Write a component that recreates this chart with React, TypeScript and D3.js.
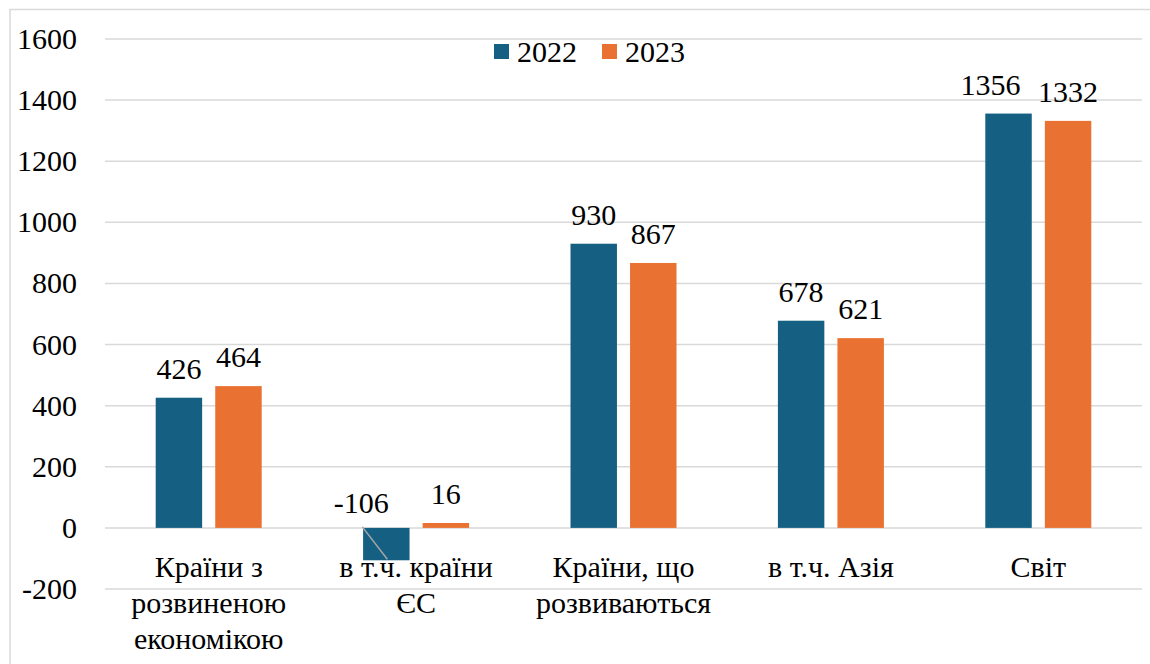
import React from 'react';
import * as d3 from 'd3';

const categories = [
  "Країни з розвиненою економікою",
  "в т.ч. країни ЄС",
  "Країни, що розвиваються",
  "в т.ч. Азія",
  "Світ",
];
const series = ["2022", "2023"];
const values2022 = [426, -106, 930, 678, 1356];
const values2023 = [464, 16, 867, 621, 1332];
const yTicks = [-200, 0, 200, 400, 600, 800, 1000, 1200, 1400, 1600];

// category labels broken into lines the way the original wraps them
const categoryLines = [
  ["Країни з", "розвиненою", "економікою"],
  ["в т.ч. країни", "ЄС"],
  ["Країни, що", "розвиваються"],
  ["в т.ч. Азія"],
  ["Світ"],
];

const colors = ["#156082", "#E97132"];
const FONT = "Liberation Serif";

// manual label nudges, as in the original chart
const nudge: Record<string, number> = {
  "Світ|2022": -18,
  "в т.ч. країни ЄС|2022": -25,
};

const App: React.FC = () => {
  const left = 105, right = 1142;
  const y = d3.scaleLinear().domain([-200, 1600]).range([589, 39]);
  const x0 = d3.scaleBand().domain(categories).range([left, right]).padding(0);
  const bw = x0.bandwidth();
  const x1 = d3.scaleBand().domain(series).range([bw / 2 - 53, bw / 2 + 53]).paddingInner(0.22);
  const color = d3.scaleOrdinal<string>().domain(series).range(colors);

  const data = categories.map((c, i) => ({
    category: c,
    values: [
      { key: "2022", value: values2022[i] },
      { key: "2023", value: values2023[i] },
    ],
  }));

  const ts = { fontFamily: FONT } as React.CSSProperties;

  return (
    <svg
      width={1150}
      height={664}
      fontFamily={FONT}
      fontSize={30}
      style={{ position: "absolute", left: 0, top: 0, background: "white", fontFamily: FONT }}
    >
      <rect x={10} y={9.5} width={1200} height={700} fill="white" stroke="#D9D9D9" strokeWidth={1.5} />

      {yTicks.map(t => (
        <line key={`g${t}`} x1={left} x2={right} y1={y(t)} y2={y(t)} stroke="#D9D9D9" strokeWidth={1.5} />
      ))}
      {yTicks.map(t => (
        <text key={`t${t}`} x={77} y={y(t) + 10} textAnchor="end" fontSize={30} style={ts}>{t}</text>
      ))}

      {data.map(d => (
        <g key={d.category} transform={`translate(${x0(d.category)},0)`}>
          {d.values.map(v => {
            const bx = x1(v.key) || 0;
            const cx = bx + x1.bandwidth() / 2;
            const dx = nudge[`${d.category}|${v.key}`] || 0;
            const ly = v.value >= 0 ? y(v.value) - 19 : y(0) - 15;
            return (
              <g key={v.key}>
                <rect
                  x={bx}
                  y={y(Math.max(0, v.value))}
                  width={x1.bandwidth()}
                  height={Math.abs(y(v.value) - y(0))}
                  fill={color(v.key)}
                />
                {v.value < 0 && (
                  <line x1={cx + dx + 1} y1={y(0) - 1} x2={cx + 1} y2={y(v.value) - 1} stroke="#A6A6A6" strokeWidth={1.5} />
                )}
                <text x={cx + dx} y={ly} textAnchor="middle" fontSize={30} style={ts}>{v.value}</text>
              </g>
            );
          })}
        </g>
      ))}

      {categories.map((c, ci) => {
        const cx = (x0(c) || 0) + bw / 2;
        return categoryLines[ci].map((l, i) => (
          <text key={`${c}${i}`} x={cx} y={577 + i * 36} textAnchor="middle" fontSize={30} style={ts}>{l}</text>
        ));
      })}

      {series.map((s, i) => (
        <g key={s} transform={`translate(${494 + i * 108},44)`}>
          <rect width={15} height={15} fill={color(s)} />
          <text x={23} y={18} fontSize={30} style={ts}>{s}</text>
        </g>
      ))}
    </svg>
  );
};

export default App;
